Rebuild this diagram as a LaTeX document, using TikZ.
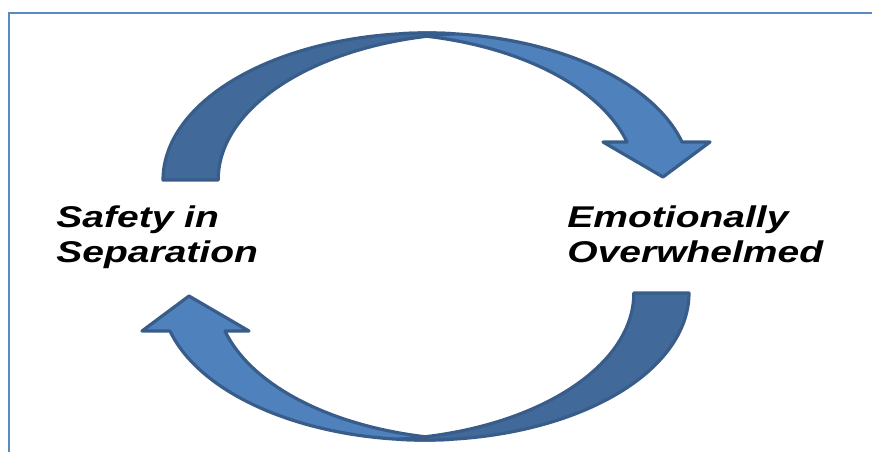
\documentclass[tikz,border=0pt]{standalone}
\usepackage{fontspec}
\setmainfont{Liberation Sans}
\usepackage{graphicx}

\definecolor{arrowlight}{HTML}{4F81BD}
\definecolor{arrowdark}{HTML}{416A9B}
\definecolor{arrowline}{HTML}{385D8A}
\definecolor{framecol}{HTML}{5A8AC6}

\tikzset{
  frontpart/.style={fill=arrowlight, draw=arrowline, line width=1.6pt, line join=round},
  backpart/.style={fill=arrowdark, draw=arrowline, line width=1.6pt, line join=round},
  cyclelabel/.style={anchor=base west, inner sep=0pt, font=\fontsize{15}{17.5}\selectfont\bfseries\itshape},
  frameline/.style={draw=framecol, line width=1.3pt}
}

% one curved arrow of the cycle (the other one is this turned by 180 degrees)
\newcommand{\halfcycle}{%
  \draw[frontpart] (399.4,33.8) arc[start angle=264, end angle=345, x radius=264, y radius=147]
    -- (710,142) -- (663,177) -- (603,142) -- (627,142)
    arc[start angle=345, end angle=276, x radius=264, y radius=147] -- cycle;
  \draw[backpart] (163,180) arc[start angle=180, end angle=276, x radius=264, y radius=147]
    arc[start angle=264, end angle=180, x radius=264, y radius=147] -- cycle;
}

\begin{document}
\begin{tikzpicture}[x=0.5pt, y=0.5pt, yscale=-1]
  \useasboundingbox (0,0) rectangle (872,452);
  \draw[frameline] (9,452) -- (9,13) -- (872,13);
  \halfcycle
  \begin{scope}[rotate around={180:(426,236.5)}]
    \halfcycle
  \end{scope}
  \node[cyclelabel] (safety) at (56,227)
    {\scalebox{1.3}[1]{\begin{tabular}[t]{@{}l@{}}Safety in\\Separation\end{tabular}}};
  \node[cyclelabel] (overwhelmed) at (567,227)
    {\scalebox{1.3}[1]{\begin{tabular}[t]{@{}l@{}}Emotionally\\Overwhelmed\end{tabular}}};
\end{tikzpicture}
\end{document}
